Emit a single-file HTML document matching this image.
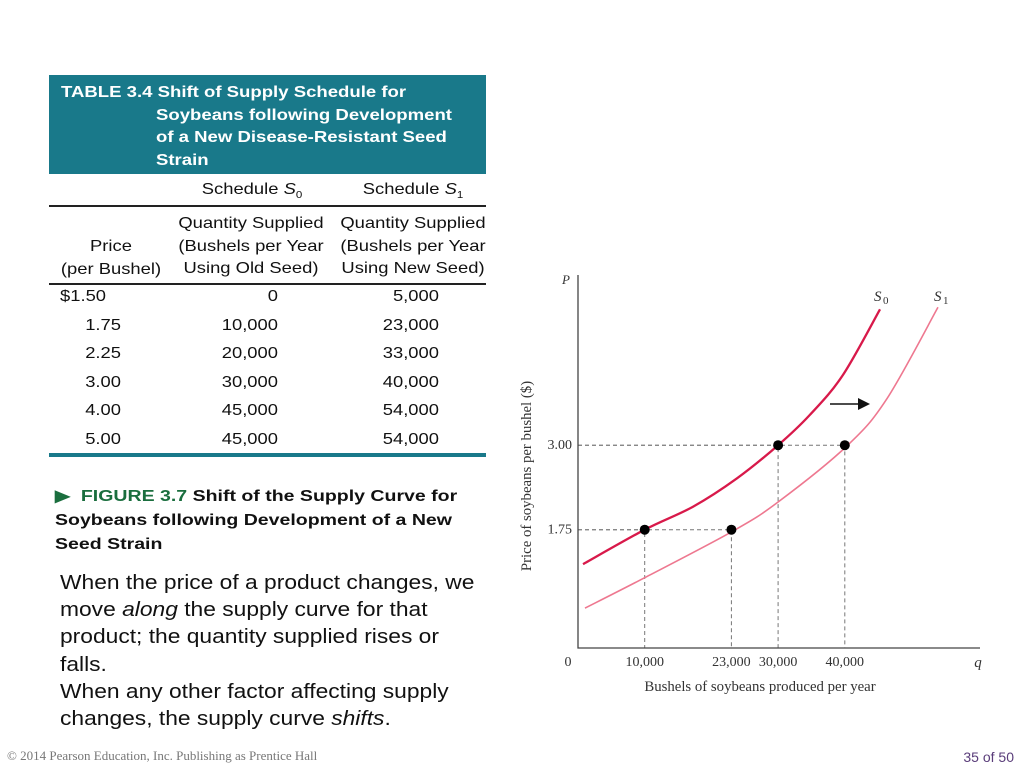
<!DOCTYPE html>
<html><head><meta charset="utf-8"><style>
body{margin:0;width:1024px;height:767px;background:#fff;position:relative;overflow:hidden;font-family:"Liberation Sans",Arial,sans-serif;color:#111}
.a{position:absolute;white-space:nowrap}
.r{text-align:right}
.c{text-align:center}
.row{font-size:16px}
.sx{transform:scaleX(1.15);transform-origin:center top}
.sxl{transform-origin:left top}
</style></head><body>
<div class="a" style="left:49px;top:75px;width:437px;height:99px;background:#19798a"></div>
<div class="a sxl" style="left:61px;top:82px;color:#fff;font-weight:bold;font-size:16px;line-height:22.5px;transform:scaleX(1.16)">TABLE 3.4 Shift of Supply Schedule for</div>
<div class="a sxl" style="left:156px;top:104.5px;color:#fff;font-weight:bold;font-size:16px;line-height:22.5px;transform:scaleX(1.16)">Soybeans following Development<br>of a New Disease-Resistant Seed<br>Strain</div>
<div class="a c row sx" style="left:180px;width:144px;top:181px">Schedule <i>S</i><sub style="font-size:10px">0</sub></div>
<div class="a c row sx" style="left:340px;width:146px;top:181px">Schedule <i>S</i><sub style="font-size:10px">1</sub></div>
<div class="a" style="left:49px;top:205px;width:437px;height:2px;background:#222"></div>
<div class="a c row sx" style="left:49px;width:124px;top:236px;line-height:22.5px">Price<br>(per Bushel)</div>
<div class="a c row sx" style="left:174px;width:154px;top:213px;line-height:22.5px">Quantity Supplied<br>(Bushels per Year<br>Using Old Seed)</div>
<div class="a c row sx" style="left:336px;width:154px;top:213px;line-height:22.5px">Quantity Supplied<br>(Bushels per Year<br>Using New Seed)</div>
<div class="a" style="left:49px;top:283px;width:437px;height:2px;background:#222"></div>
<div id="rows"></div>
<div class="a" style="left:49px;top:453px;width:437px;height:4px;background:#19798a"></div>
<div class="a sxl" style="left:55px;top:485px;font-weight:bold;font-size:16px;line-height:24px;transform:scaleX(1.22)"><span style="color:#1a6e3e">&#9654;&nbsp; FIGURE 3.7</span> Shift of the Supply Curve for<br>Soybeans following Development of a New<br>Seed Strain</div>
<div class="a sxl" style="left:60px;top:570px;font-size:20px;line-height:27.2px;transform:scaleX(1.14)">When the price of a product changes, we<br>move <i>along</i> the supply curve for that<br>product; the quantity supplied rises or<br>falls.<br>When any other factor affecting supply<br>changes, the supply curve <i>shifts</i>.</div>
<div class="a" style="left:7px;top:748px;font-family:'Liberation Serif',serif;font-size:13px;color:#777">© 2014 Pearson Education, Inc. Publishing as Prentice Hall</div>
<div class="a" style="right:10px;top:749px;font-size:14px;color:#5a3d7a">35 of 50</div>

<svg class="a" style="left:0;top:0" width="1024" height="767" id="chart"></svg>
<script>
const prices=["$1.50","1.75","2.25","3.00","4.00","5.00"];
const qtyOld=["0","10,000","20,000","30,000","45,000","45,000"];
const qtyNew=["5,000","23,000","33,000","40,000","54,000","54,000"];
const rowsEl=document.getElementById('rows');
prices.forEach((p,i)=>{
  const top=288+i*28.6;
  [[p,60,61,'price-cell'],[qtyOld[i],180,98,'s0-qty-cell'],[qtyNew[i],340,99,'s1-qty-cell']].forEach(([t,l,w,n],j)=>{
    const d=document.createElement('div');
    d.className='a row '+(j===0&&i===0?'':'r');
    d.style.left=l+'px';d.style.top=top+'px';d.style.width=w+'px';
    d.style.transform='scaleX(1.15)';
    d.style.transformOrigin=(j===0&&i===0)?'left top':'right top';
    d.textContent=t;
    
    
    rowsEl.appendChild(d);
  });
});

// chart data
const s0Q=[750,10000,17240,23840,30000,34780,39730,45280];
const s0P=[1.24,1.75,2.09,2.51,3.00,3.45,4.04,5.01];
const s1Q=[1050,10000,23240,30000,40330,46330,53970];
const s1P=[0.59,1.04,1.73,2.16,2.99,3.69,5.04];
const pointQ=[10000,23000,30000,40000];
const pointP=[1.75,1.75,3.00,3.00];
const xTicks=[10000,23000,30000,40000];
const xTickLabels=["10,000","23,000","30,000","40,000"];
const yTicks=[1.75,3.00];
const yTickLabels=["1.75","3.00"];

const X=q=>578+q*0.00667;
const Y=p=>648-p*67.6;
const svg=document.getElementById('chart');
const NS='http://www.w3.org/2000/svg';
function mk(tag,attrs,txt){const e=document.createElementNS(NS,tag);for(const k in attrs)e.setAttribute(k,attrs[k]);if(txt!=null)e.textContent=txt;svg.appendChild(e);return e;}
function smooth(qs,ps){
  const pts=qs.map((q,i)=>[X(q),Y(ps[i])]);
  let d='M'+pts[0][0]+','+pts[0][1];
  for(let i=0;i<pts.length-1;i++){
    const p0=pts[i-1]||pts[i],p1=pts[i],p2=pts[i+1],p3=pts[i+2]||p2;
    const c1=[p1[0]+(p2[0]-p0[0])/6,p1[1]+(p2[1]-p0[1])/6];
    const c2=[p2[0]-(p3[0]-p1[0])/6,p2[1]-(p3[1]-p1[1])/6];
    d+=` C${c1[0]},${c1[1]} ${c2[0]},${c2[1]} ${p2[0]},${p2[1]}`;
  }
  return d;
}
const serif="Liberation Serif, serif";
pointQ.forEach((q,i)=>{
  let e=mk('path',{d:`M${X(0)},${Y(pointP[i])}H${X(q)}V${Y(0)}`,fill:'none',stroke:'#777','stroke-width':1,'stroke-dasharray':'4,3'});
  
  
});
let ax=mk('path',{d:`M578,275V648H980`,fill:'none',stroke:'#444','stroke-width':1.3});


let c0=mk('path',{d:smooth(s0Q,s0P),fill:'none',stroke:'#d8194a','stroke-width':2.3});


let c1=mk('path',{d:smooth(s1Q,s1P),fill:'none',stroke:'#ee7890','stroke-width':1.6});


pointQ.forEach((q,i)=>{
  let e=mk('circle',{cx:X(q),cy:Y(pointP[i]),r:5,fill:'#000'});
  
  
});
xTicks.forEach((q,i)=>{
  let e=mk('text',{x:X(q),y:666,'text-anchor':'middle','font-family':serif,'font-size':14,fill:'#333'},xTickLabels[i]);
  
  
});
yTicks.forEach((p,i)=>{
  let e=mk('text',{x:572,y:Y(p)+4,'text-anchor':'end','font-family':serif,'font-size':14,fill:'#333'},yTickLabels[i]);
  
  
});
let t;
t=mk('text',{x:568,y:666,'text-anchor':'middle','font-family':serif,'font-size':14,fill:'#333'},'0');

t=mk('text',{x:978,y:667,'text-anchor':'middle','font-family':serif,'font-size':15,'font-style':'italic',fill:'#333'},'q');

t=mk('text',{x:566,y:284,'text-anchor':'middle','font-family':serif,'font-size':13,'font-style':'italic',fill:'#333'},'P');

t=mk('text',{x:760,y:691,'text-anchor':'middle','font-family':serif,'font-size':14.8,fill:'#333'},'Bushels of soybeans produced per year');

t=mk('text',{x:0,y:0,transform:'translate(531,476) rotate(-90)','text-anchor':'middle','font-family':serif,'font-size':14.8,fill:'#333'},'Price of soybeans per bushel ($)');

t=mk('text',{x:874,y:301,'font-family':serif,'font-size':15,'font-style':'italic',fill:'#333'},'S');

mk('text',{x:883,y:304,'font-family':serif,'font-size':11,fill:'#333'},'0');
t=mk('text',{x:934,y:301,'font-family':serif,'font-size':15,'font-style':'italic',fill:'#333'},'S');

mk('text',{x:943,y:304,'font-family':serif,'font-size':11,fill:'#333'},'1');
let ar=mk('path',{d:'M830,404H860',stroke:'#111','stroke-width':1.6});

mk('path',{d:'M858,398L870,404L858,410Z',fill:'#111'});
</script>
</body></html>
